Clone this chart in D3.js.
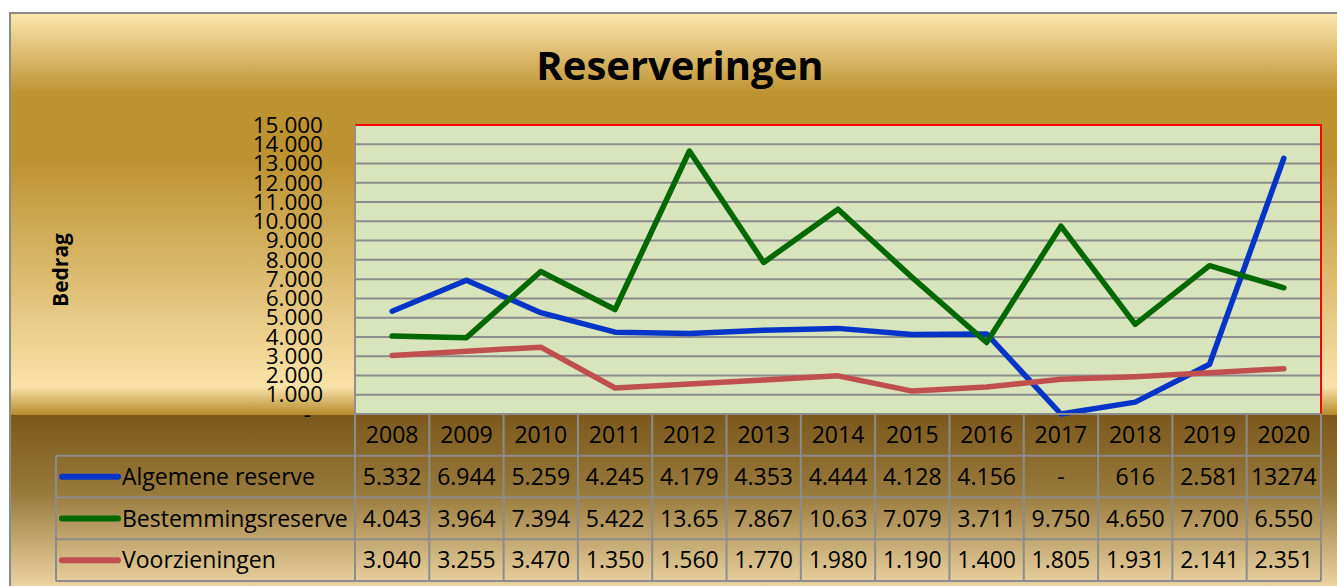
<!DOCTYPE html>
<html>
<head>
<meta charset="utf-8">
<script src="https://cdn.jsdelivr.net/npm/d3@7"></script>
<style>
  html, body { margin: 0; padding: 0; background: #ffffff; }
  svg { display: block; }
  text { font-family: "Open Sans", "Noto Sans", sans-serif; fill: #000; }
</style>
</head>
<body>
<svg id="chart" width="1337" height="586"></svg>
<script>
// ---- data ----
const years = ["2008","2009","2010","2011","2012","2013","2014","2015","2016","2017","2018","2019","2020"];
const seriesNames = ["Algemene reserve", "Bestemmingsreserve", "Voorzieningen"];
const algemeneReserve   = [5332, 6944, 5259, 4245, 4179, 4353, 4444, 4128, 4156, 0, 616, 2581, 13274];
const bestemmingsreserve = [4043, 3964, 7394, 5422, 13650, 7867, 10630, 7079, 3711, 9750, 4650, 7700, 6550];
const voorzieningen     = [3040, 3255, 3470, 1350, 1560, 1770, 1980, 1190, 1400, 1805, 1931, 2141, 2351];
const algemeneLabels    = ["5.332","6.944","5.259","4.245","4.179","4.353","4.444","4.128","4.156","-","616","2.581","13274"];
const bestemmingsLabels = ["4.043","3.964","7.394","5.422","13.65","7.867","10.63","7.079","3.711","9.750","4.650","7.700","6.550"];
const voorzieningLabels = ["3.040","3.255","3.470","1.350","1.560","1.770","1.980","1.190","1.400","1.805","1.931","2.141","2.351"];
const yTicks = [0,1000,2000,3000,4000,5000,6000,7000,8000,9000,10000,11000,12000,13000,14000,15000];
const colors = ["#0434c8", "#026802", "#c0504d"];
const titleText = "Reserveringen";
const yAxisTitle = "Bedrag";

const series = [
  { name: seriesNames[0], values: algemeneReserve, labels: algemeneLabels, color: colors[0] },
  { name: seriesNames[1], values: bestemmingsreserve, labels: bestemmingsLabels, color: colors[1] },
  { name: seriesNames[2], values: voorzieningen, labels: voorzieningLabels, color: colors[2] }
];

// ---- layout ----
const svg = d3.select("#chart");
const plot = { left: 355, right: 1321, top: 125, bottom: 414 };
const tableLeft = 56;
const rowH = 41.75;
const rowsY = [plot.bottom, plot.bottom + rowH, plot.bottom + 2*rowH, plot.bottom + 3*rowH, plot.bottom + 4*rowH];
const gridColor = "#8c8c8c";

const defs = svg.append("defs");
const g1 = defs.append("linearGradient").attr("id","bgTop").attr("x1",0).attr("y1",0).attr("x2",0).attr("y2",1);
[[0,"#fbe5ad"],[0.2,"#bd9230"],[0.36,"#bd9230"],[0.93,"#f9e2aa"],[1,"#b68a2a"]]
  .forEach(([o,c]) => g1.append("stop").attr("offset",o).attr("stop-color",c));
const g2 = defs.append("linearGradient").attr("id","bgBot").attr("x1",0).attr("y1",0).attr("x2",0).attr("y2",1);
[[0,"#7c581c"],[0.45,"#98793c"],[1,"#ebd4a3"]]
  .forEach(([o,c]) => g2.append("stop").attr("offset",o).attr("stop-color",c));

// background
svg.append("rect").attr("x",11).attr("y",14).attr("width",1337).attr("height",plot.bottom + 1 - 14).attr("fill","url(#bgTop)");
svg.append("rect").attr("x",11).attr("y",plot.bottom + 1).attr("width",1337).attr("height",586 - plot.bottom).attr("fill","url(#bgBot)");
svg.append("rect").attr("x",10).attr("y",13).attr("width",1400).attr("height",700)
  .attr("fill","none").attr("stroke","#8a8a8a").attr("stroke-width",2);

// scales
const x = d3.scaleBand().domain(years).range([plot.left, plot.right]).paddingInner(0).paddingOuter(0);
const cx = d => x(d) + x.bandwidth()/2;
const y = d3.scaleLinear().domain([0,15000]).range([plot.bottom, plot.top]);

// plot area
svg.append("rect").attr("x",plot.left).attr("y",plot.top)
  .attr("width",plot.right-plot.left).attr("height",plot.bottom-plot.top).attr("fill","#d8e4bc");

// gridlines
svg.append("g").selectAll("line").data(yTicks.filter(t => t > 0 && t < 15000)).join("line")
  .attr("x1",plot.left).attr("x2",plot.right)
  .attr("y1",d => y(d)).attr("y2",d => y(d))
  .attr("stroke",gridColor).attr("stroke-width",2);

// plot borders
svg.append("line").attr("x1",plot.left).attr("x2",plot.right+1).attr("y1",plot.top).attr("y2",plot.top).attr("stroke","#ff0000").attr("stroke-width",2);
svg.append("line").attr("x1",plot.right).attr("x2",plot.right).attr("y1",plot.top).attr("y2",plot.bottom).attr("stroke","#ff0000").attr("stroke-width",2);
svg.append("line").attr("x1",plot.left).attr("x2",plot.left).attr("y1",plot.top).attr("y2",plot.bottom).attr("stroke","#9a8a8a").attr("stroke-width",2);

// y axis
const nl = d3.formatLocale({decimal: ",", thousands: ".", grouping: [3], currency: ["",""]});
const fmt = nl.format(",.0f");
const yAxis = d3.axisLeft(y).tickValues(yTicks).tickSize(0).tickPadding(32)
  .tickFormat(d => d === 0 ? "-" : fmt(d));
const ya = svg.append("g").attr("transform",`translate(${plot.left},0)`).call(yAxis);
ya.select(".domain").remove();
ya.selectAll("text").attr("font-size",22.5).attr("font-family","'Open Sans', sans-serif").attr("fill","#000")
  .attr("dx", d => d === 0 ? -12 : 0);

// lines
const line = d3.line().x((d,i) => cx(years[i])).y(d => y(d));
svg.append("g").selectAll("path").data(series).join("path")
  .attr("d", s => line(s.values))
  .attr("fill","none").attr("stroke", s => s.color).attr("stroke-width",5.5)
  .attr("stroke-linejoin","round").attr("stroke-linecap","round");

// title
svg.append("text").attr("x",680).attr("y",80).attr("text-anchor","middle")
  .attr("font-size",40).attr("font-weight","bold").text(titleText);

// y title
svg.append("text").attr("transform","translate(68,270) rotate(-90)").attr("text-anchor","middle")
  .attr("font-size",21).attr("font-weight","bold").text(yAxisTitle);

// ---- data table ----
const tbl = svg.append("g");
tbl.selectAll("line.h").data(rowsY).join("line").attr("class","h")
  .attr("x1",(d,i) => i === 0 ? plot.left : tableLeft).attr("x2",plot.right)
  .attr("y1",d => d).attr("y2",d => d)
  .attr("stroke",gridColor).attr("stroke-width",2);
const colEdges = years.map(yr => x(yr)).concat([plot.right]);
tbl.selectAll("line.v").data(colEdges).join("line").attr("class","v")
  .attr("x1",d => d).attr("x2",d => d).attr("y1",plot.bottom).attr("y2",rowsY[4])
  .attr("stroke",gridColor).attr("stroke-width",2);
tbl.append("line").attr("x1",tableLeft).attr("x2",tableLeft).attr("y1",rowsY[1]).attr("y2",rowsY[4])
  .attr("stroke",gridColor).attr("stroke-width",2);

tbl.selectAll("text.yr").data(years).join("text").attr("class","yr")
  .attr("x",d => cx(d)).attr("y",(rowsY[0]+rowsY[1])/2).attr("dy","0.36em")
  .attr("text-anchor","middle").attr("font-size",23).text(d => d);

series.forEach((s,r) => {
  const yc = (rowsY[r+1] + rowsY[r+2]) / 2;
  tbl.append("line").attr("x1",62).attr("x2",118).attr("y1",yc).attr("y2",yc)
    .attr("stroke",s.color).attr("stroke-width",6).attr("stroke-linecap","round");
  tbl.append("text").attr("x",122).attr("y",yc).attr("dy","0.36em").attr("font-size",23).text(s.name);
  tbl.selectAll(null).data(s.labels).join("text")
    .attr("x",(d,i) => cx(years[i])).attr("y",yc).attr("dy","0.36em")
    .attr("text-anchor","middle").attr("font-size",23).text(d => d);
});
</script>
</body>
</html>
